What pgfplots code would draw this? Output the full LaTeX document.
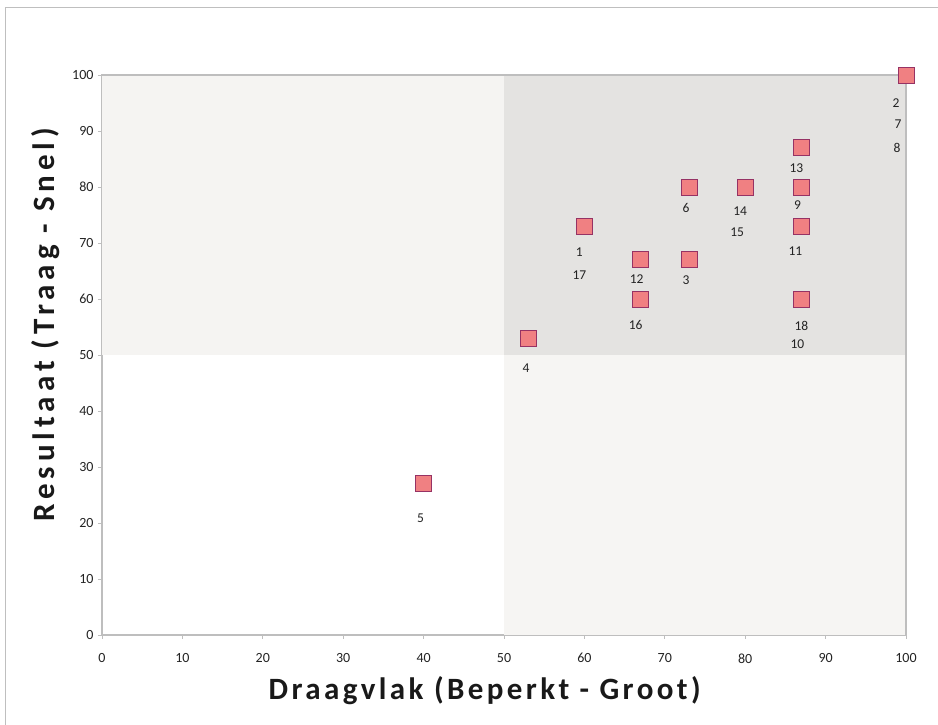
\documentclass[border=0pt]{standalone}
\usepackage{pgfplots}
\pgfplotsset{compat=1.18}
\usepackage{pgfplotstable}
\usepackage{fontspec}
\setmainfont{Carlito}
\definecolor{ptfill}{RGB}{240,128,130}
\definecolor{ptdraw}{RGB}{150,50,100}
\definecolor{qul}{RGB}{245,244,242}
\definecolor{qur}{RGB}{228,227,225}
\definecolor{qlr}{RGB}{246,245,243}
\definecolor{axgray}{RGB}{190,190,190}
\definecolor{lbl}{RGB}{35,35,35}

\pgfplotstableread{
x y
40 27
53 53
60 73
67 67
67 60
73 80
73 67
80 80
87 87
87 80
87 73
87 60
100 100
}\points

\pgfplotstableread{
x y dx dy label
100 100 -10 28 2
100 100 -8 49 7
100 100 -9 73 8
87 87 -5 20 13
73 80 -3 21 6
80 80 -5 24 14
80 80 -8 45 15
87 80 -4 18 9
60 73 -5 26 1
60 73 -5 49 17
87 73 -6 25 11
67 67 -4 19 12
73 67 -3 20 3
67 60 -5 26 16
87 60 0 27 18
87 60 -4 45 10
53 53 -2 30 4
40 27 -3 34 5
}\labels

\begin{document}
\begin{tikzpicture}
\useasboundingbox (0pt,0pt) rectangle (938pt,725pt);
\draw[black!25, line width=1pt] (5pt,-10pt) rectangle (950pt,717pt);
\begin{axis}[
  scale only axis,
  width=804pt, height=560pt,
  at={(102pt,90pt)}, anchor=south west,
  xmin=0, xmax=100, ymin=0, ymax=100,
  xtick={0,10,...,100}, ytick={0,10,...,100},
  axis line style={draw=axgray, line width=1.3pt},
  tick style={draw=axgray, line width=0.8pt},
  major tick length=4pt,
  tick align=outside,
  xtick pos=bottom, ytick pos=left,
  /pgf/number format/assume math mode=true,
  tick label style={font=\fontsize{14}{14}\selectfont, text=lbl},
  xticklabel style={yshift=-11pt},
  yticklabel style={xshift=-1pt},
  xlabel={\fontsize{31}{31}\selectfont\bfseries\addfontfeature{LetterSpace=11}Draagvlak (Beperkt - Groot)},
  ylabel={\fontsize{31}{31}\selectfont\bfseries\addfontfeature{LetterSpace=16}Resultaat (Traag - Snel)},
  xlabel style={at={(ticklabel cs:0.476)}, yshift=-6pt, text=black!90},
  ylabel style={at={(ticklabel cs:0.554)}, yshift=6pt, text=black!90},
  clip=false,
]
\fill[qul] (axis cs:0,50) rectangle (axis cs:50,100);
\fill[qur] (axis cs:50,50) rectangle (axis cs:100,100);
\fill[qlr] (axis cs:50,0) rectangle (axis cs:100,50);
\draw[axgray, line width=1.3pt] (axis cs:0,100) -- (axis cs:100,100) -- (axis cs:100,0);
\addplot[only marks, mark=square*, mark size=8pt,
  mark options={fill=ptfill, draw=ptdraw, line width=0.8pt}] table[x=x,y=y] {\points};
\addplot[draw=none, mark=none,
  nodes near coords, point meta=explicit symbolic,
  visualization depends on={\thisrow{dx} \as \dx},
  visualization depends on={\thisrow{dy} \as \dy},
  nodes near coords style={anchor=center, xshift=\dx*1pt, yshift=-\dy*1pt,
    font=\fontsize{13.5}{13.5}\selectfont, text=lbl, inner sep=0pt},
] table[x=x, y=y, meta=label] {\labels};
\end{axis}
\end{tikzpicture}
\end{document}
